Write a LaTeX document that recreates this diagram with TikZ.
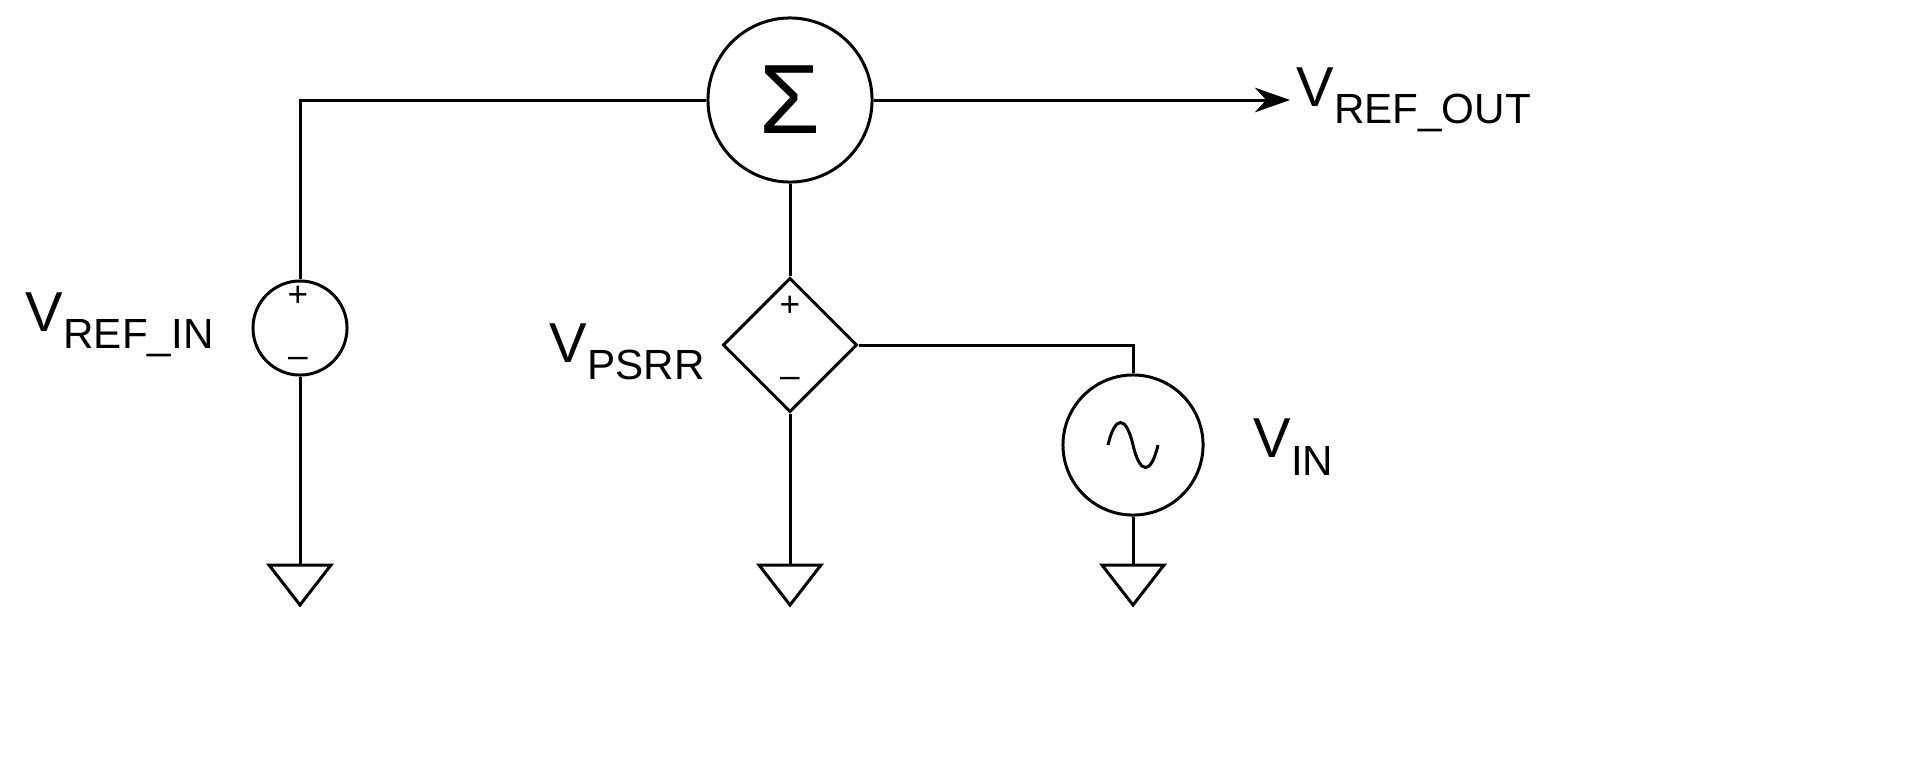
\documentclass[tikz,border=0pt]{standalone}
\usepackage{fontspec}
\setmainfont{Liberation Sans}
\usetikzlibrary{arrows.meta,shapes.geometric}
\newcommand{\lbl}[1]{V{\fontsize{12}{12}\selectfont\raisebox{-5pt}{#1}}}
\begin{document}
\begin{tikzpicture}[x=0.01cm,y=-0.01cm,line width=0.85pt,
  src/.style={circle,draw,inner sep=0pt},
  txt/.style={font=\fontsize{16}{16}\selectfont,inner sep=0pt},
  sgn/.style={font=\fontsize{10}{10}\selectfont,inner sep=0pt}]
\useasboundingbox (0,0) rectangle (1925,775);
\node[src,minimum size=1.64cm] (sum) at (790,100) {\fontsize{28}{28}\selectfont Σ};
\node[src,minimum size=0.94cm] (vref) at (300,328) {};
\node[sgn] at (298,296) {+};
\node[sgn] at (298,362) {–};
\node[diamond,draw,inner sep=0pt,minimum width=1.34cm,minimum height=1.34cm] (dia) at (790,345) {};
\node[sgn] at (790,306) {+};
\node[sgn] at (790,382) {–};
\node[src,minimum size=1.4cm] (vin) at (1133,445) {};
\draw (1108,445) .. controls (1115,415) and (1126,415) .. (1133,445) .. controls (1140,475) and (1151,475) .. (1158,445);
\foreach \x/\n in {300/g1,790/g2,1133/g3}{
  \coordinate (\n) at (\x,565);
  \draw (\x-31,565) -- (\x+31,565) -- (\x,605) -- cycle;}
\coordinate (tl) at (300,100);
\coordinate (out) at (1290,100);
\coordinate (cr) at (1133,345);
\draw (vref.north) -- (tl) -- (sum.west);
\draw (vref.south) -- (g1);
\draw[-{Stealth[length=10pt,width=7pt]}] (sum.east) -- (out);
\draw (sum.south) -- (dia.north);
\draw (dia.south) -- (g2);
\draw (dia.east) -- (cr) -- (vin.north);
\draw (vin.south) -- (g3);
\node[txt,anchor=west] at (1295,100) {\lbl{REF\_OUT}};
\node[txt,anchor=east] at (215,325) {\lbl{REF\_IN}};
\node[txt,anchor=east] at (706,352) {\lbl{PSRR}};
\node[txt,anchor=west] at (1252,447) {\lbl{IN}};
\end{tikzpicture}
\end{document}
